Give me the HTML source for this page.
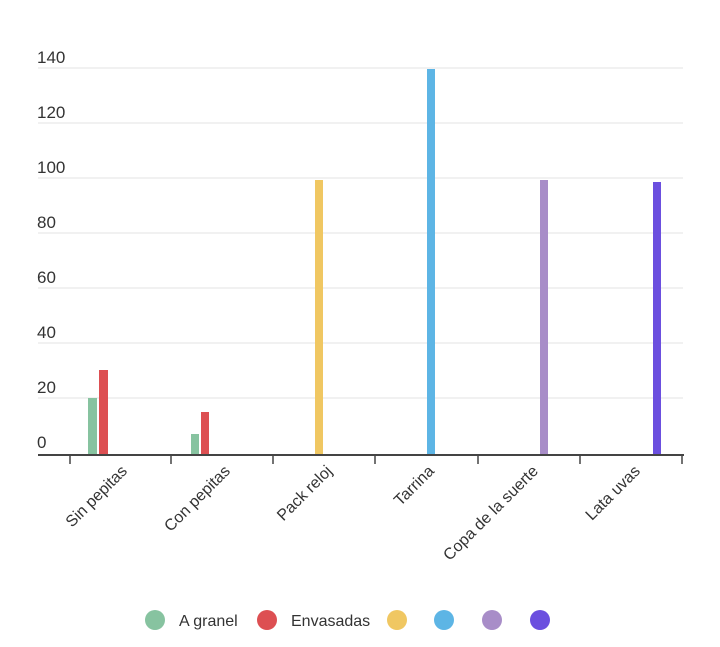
<!DOCTYPE html>
<html><head><meta charset="utf-8"><style>body{margin:0;background:#fff}svg{display:block}</style></head><body>
<svg width="720" height="647" xmlns="http://www.w3.org/2000/svg" font-family="Liberation Sans, sans-serif">
<g stroke="#e3e3e3" stroke-width="1">
<line x1="38" x2="683" y1="68" y2="68"/><line x1="38" x2="683" y1="123" y2="123"/>
<line x1="38" x2="683" y1="178" y2="178"/><line x1="38" x2="683" y1="233" y2="233"/>
<line x1="38" x2="683" y1="288" y2="288"/><line x1="38" x2="683" y1="343" y2="343"/>
<line x1="38" x2="683" y1="398" y2="398"/>
</g>
<g fill="#333" font-size="17">
<text x="37" y="63">140</text><text x="37" y="118">120</text><text x="37" y="173">100</text>
<text x="37" y="228">80</text><text x="37" y="283">60</text><text x="37" y="338">40</text>
<text x="37" y="393">20</text><text x="37" y="448">0</text>
</g>
<rect x="88" y="398" width="9" height="57" fill="#87c3a0"/>
<rect x="99" y="370" width="9" height="85" fill="#dd4f52"/>
<rect x="191" y="434" width="8" height="21" fill="#87c3a0"/>
<rect x="201" y="412" width="8" height="43" fill="#dd4f52"/>
<rect x="315" y="180" width="8" height="275" fill="#f0c762"/>
<rect x="427" y="69" width="8" height="386" fill="#5db5e5"/>
<rect x="540" y="180" width="8" height="275" fill="#a88dc8"/>
<rect x="653" y="182" width="8" height="273" fill="#6b4fdf"/>
<line x1="38" x2="684" y1="455" y2="455" stroke="#444" stroke-width="2"/>
<g stroke="#444" stroke-width="1.5">
<line x1="70" x2="70" y1="455" y2="464"/><line x1="171" x2="171" y1="455" y2="464"/>
<line x1="273" x2="273" y1="455" y2="464"/><line x1="375" x2="375" y1="455" y2="464"/>
<line x1="478" x2="478" y1="455" y2="464"/><line x1="580" x2="580" y1="455" y2="464"/>
<line x1="682" x2="682" y1="455" y2="464"/>
</g>
<g fill="#333" font-size="16" text-anchor="end">
<text transform="translate(128,472) rotate(-45)">Sin pepitas</text>
<text transform="translate(231,472) rotate(-45)">Con pepitas</text>
<text transform="translate(333,472) rotate(-45)">Pack reloj</text>
<text transform="translate(435,472) rotate(-45)">Tarrina</text>
<text transform="translate(539,472) rotate(-45)">Copa de la suerte</text>
<text transform="translate(641,472) rotate(-45)">Lata uvas</text>
</g>
<circle cx="155" cy="620" r="10" fill="#87c3a0"/>
<circle cx="267" cy="620" r="10" fill="#dd4f52"/>
<circle cx="397" cy="620" r="10" fill="#f0c762"/>
<circle cx="444" cy="620" r="10" fill="#5db5e5"/>
<circle cx="492" cy="620" r="10" fill="#a88dc8"/>
<circle cx="540" cy="620" r="10" fill="#6b4fdf"/>
<g fill="#333" font-size="16">
<text x="179" y="626">A granel</text><text x="291" y="626">Envasadas</text>
</g>
</svg>
</body></html>
